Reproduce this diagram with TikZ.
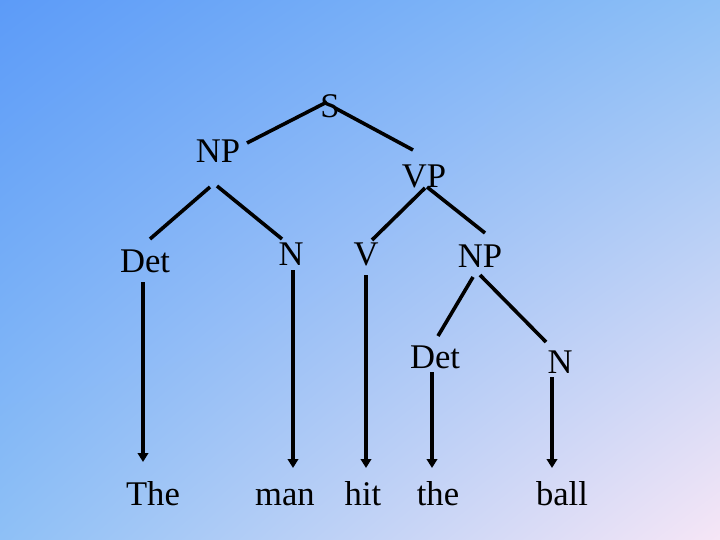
\documentclass[tikz,border=0pt]{standalone}
\usepackage{fontspec}
\setmainfont{Liberation Serif}
\usepackage{tikz}
\usetikzlibrary{arrows.meta,shadings}

\definecolor{bgUL}{RGB}{92,155,248}
\definecolor{bgUR}{RGB}{142,192,246}
\definecolor{bgLL}{RGB}{142,192,246}
\definecolor{bgLR}{RGB}{246,230,246}

\begin{document}
\begin{tikzpicture}[x=1pt,y=-1pt,
  >={Triangle[length=9pt,width=10.5pt]},
  cat/.style={anchor=base,inner sep=0pt,
  font=\fontsize{34.6}{40}\selectfont},
  word/.style={cat},
  branch/.style={line width=3.6pt},
  leaf/.style={line width=3.8pt,->}]

  \useasboundingbox (0,0) rectangle (720,540);
  \shade[upper left=bgUL,upper right=bgUR,lower left=bgLL,
    lower right=bgLR] (0,0) rectangle (720,540);

  \node[cat] (S) at (330,118) {S};
  \node[cat] (NPa) at (218,163) {NP};
  \node[cat] (VP) at (424,188) {VP};
  \node[cat] (Deta) at (145,272) {Det};
  \node[cat] (Na) at (291,265) {N};
  \node[cat] (V) at (366,265) {V};
  \node[cat] (NPb) at (480,267) {NP};
  \node[cat] (Detb) at (435,368) {Det};
  \node[cat] (Nb) at (560,373) {N};

  \node[word] (The) at (153,505) {The};
  \node[word] (man) at (285,505) {man};
  \node[word] (hit) at (363,505) {hit};
  \node[word] (the) at (438,505) {the};
  \node[word] (ball) at (562,505) {ball};

  \path[branch]
    ([shift={(-3,-16)}]S.base) edge ([shift={(29,-20)}]NPa.base)
    ([shift={(5,-10)}]S.base) edge ([shift={(-11,-38)}]VP.base)
    ([shift={(-8,24)}]NPa.base) edge ([shift={(5,-33)}]Deta.base)
    ([shift={(-1,23)}]NPa.base) edge ([shift={(-9,-26)}]Na.base)
    ([shift={(1,0)}]VP.base) edge ([shift={(6,-25)}]V.base)
    ([shift={(3,-1)}]VP.base) edge ([shift={(5,-34)}]NPb.base)
    ([shift={(-7,10)}]NPb.base) edge ([shift={(3,-32)}]Detb.base)
    ([shift={(0,8)}]NPb.base) edge ([shift={(-14,-31)}]Nb.base);

  \path[leaf]
    ([shift={(-2,10)}]Deta.base) edge ([shift={(-10,-43)}]The.base)
    ([shift={(2,5)}]Na.base) edge ([shift={(8,-37)}]man.base)
    ([shift={(0,10)}]V.base) edge ([shift={(3,-37)}]hit.base)
    ([shift={(-3,4)}]Detb.base) edge ([shift={(-6,-37)}]the.base)
    ([shift={(-8,4)}]Nb.base) edge ([shift={(-10,-37)}]ball.base);
\end{tikzpicture}
\end{document}
